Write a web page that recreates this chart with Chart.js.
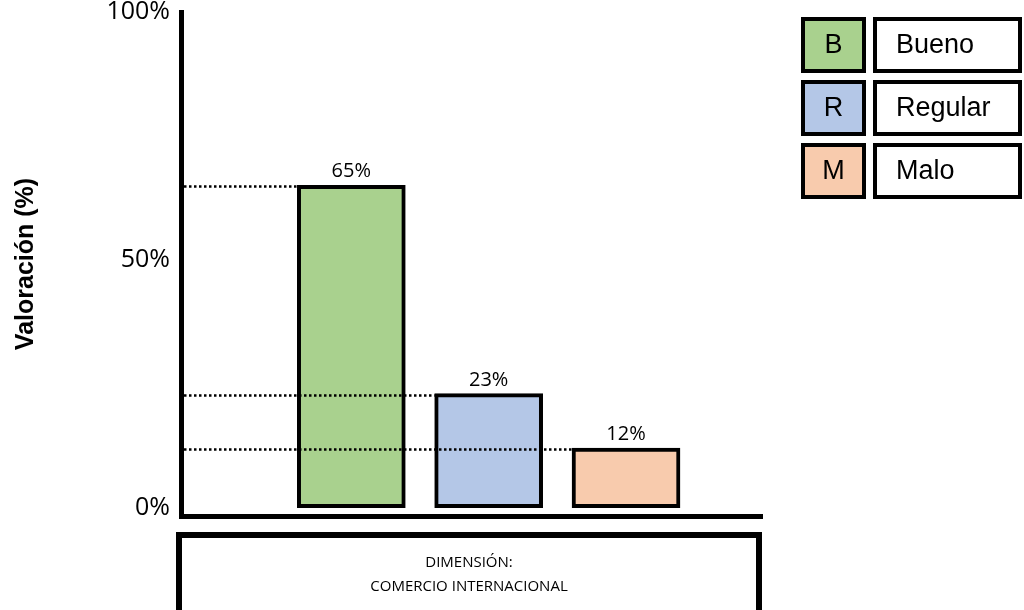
<!DOCTYPE html>
<html lang="es">
<head>
<meta charset="utf-8">
<title>Valoración (%) - Comercio internacional</title>
<script src="https://cdn.jsdelivr.net/npm/chart.js@4.4.1/dist/chart.umd.min.js"></script>
<style>
  html, body { margin: 0; padding: 0; background: #fff; }
  #wrap { width: 1024px; height: 610px; position: relative; }
</style>
</head>
<body>
<div id="wrap"><canvas id="valoracion"></canvas></div>
<script>
"use strict";

const categories = ['B', 'R', 'M'];
const categoryNames = ['Bueno', 'Regular', 'Malo'];
const values = [65, 23, 12];
const barColors = ['#a9d18e', '#b4c7e7', '#f8cbad'];
const yTicks = [0, 50, 100];
const yTitle = 'Valoración (%)';
const dimensionLabel = ['DIMENSIÓN:', 'COMERCIO INTERNACIONAL'];

const SANS = "'Open Sans', sans-serif";
const ARIAL = "'Liberation Sans', Arial, sans-serif";

// dotted guide from the y axis to the left edge of each bar, drawn over the bars
const guideLines = {
  id: 'guideLines',
  afterDatasetsDraw(chart) {
    const { ctx, chartArea } = chart;
    ctx.save();
    ctx.strokeStyle = '#000';
    ctx.lineWidth = 2.5;
    ctx.setLineDash([2.5, 2.5]);
    chart.getDatasetMeta(0).data.forEach(bar => {
      const y = Math.round(bar.y) + 1.5;
      ctx.beginPath();
      ctx.moveTo(chartArea.left + 3, y);
      ctx.lineTo(bar.x - bar.width / 2, y);
      ctx.stroke();
    });
    ctx.restore();
  }
};

// percentage over every bar
const valueLabels = {
  id: 'valueLabels',
  afterDatasetsDraw(chart) {
    const { ctx } = chart;
    ctx.save();
    ctx.fillStyle = '#000';
    ctx.font = `20px ${SANS}`;
    ctx.textAlign = 'center';
    ctx.textBaseline = 'alphabetic';
    chart.getDatasetMeta(0).data.forEach((bar, i) => {
      ctx.fillText(values[i] + '%', bar.x, bar.y - 8);
    });
    ctx.restore();
  }
};

// boxed dimension name under the x axis
const dimensionBox = {
  id: 'dimensionBox',
  afterDraw(chart) {
    const { ctx, chartArea } = chart;
    const left = chartArea.left - 2;
    const width = chartArea.right - chartArea.left - 1;
    ctx.save();
    ctx.strokeStyle = '#000';
    ctx.lineWidth = 6;
    ctx.strokeRect(left, 535, width, 100);
    ctx.fillStyle = '#000';
    ctx.font = `15px ${SANS}`;
    ctx.textAlign = 'center';
    ctx.textBaseline = 'middle';
    dimensionLabel.forEach((line, i) => {
      ctx.fillText(line, left + width / 2, 563 + i * 24);
    });
    ctx.restore();
  }
};

// letter key on the right: coloured box + name box
const keyTable = {
  id: 'keyTable',
  afterDraw(chart) {
    const { ctx } = chart;
    ctx.save();
    ctx.lineWidth = 4;
    ctx.strokeStyle = '#000';
    ctx.font = `27px ${ARIAL}`;
    ctx.textBaseline = 'middle';
    categories.forEach((letter, i) => {
      const top = 17 + i * 63;
      ctx.fillStyle = barColors[i];
      ctx.fillRect(801, top, 65, 56);
      ctx.strokeRect(803, top + 2, 61, 52);
      ctx.fillStyle = '#fff';
      ctx.fillRect(873, top, 149, 56);
      ctx.strokeRect(875, top + 2, 145, 52);
      ctx.fillStyle = '#000';
      ctx.textAlign = 'center';
      ctx.fillText(letter, 833.5, top + 29);
      ctx.textAlign = 'left';
      ctx.fillText(categoryNames[i], 896, top + 29);
    });
    ctx.restore();
  }
};

class ValoracionChart {

  #rendered;

  #options() {
    return {
      responsive: true,
      maintainAspectRatio: false,
      animation: false,
      layout: { padding: { top: 12, right: 262, bottom: 0, left: 0 } },
      plugins: {
        legend: { display: false },
        tooltip: { enabled: false },
      },
      scales: {
        x: {
          type: 'linear',
          offset: false,
          min: -0.24,
          max: 3.99,
          grid: { display: false, drawTicks: false },
          border: { display: true, color: '#000', width: 5 },
          ticks: { display: false },
          afterFit(scale) {
            scale.height = 94;
            scale.paddingLeft = 0;
            scale.paddingRight = 0;
          },
        },
        y: {
          min: -1.7,
          max: 100,
          afterBuildTicks(scale) {
            scale.ticks = yTicks.map(v => ({ value: v }));
          },
          grid: { display: false, drawTicks: false },
          border: { display: true, color: '#000', width: 5 },
          ticks: {
            padding: 11,
            color: '#000',
            font: { family: SANS, size: 25 },
            callback: v => v + '%',
          },
          title: {
            display: true,
            text: yTitle,
            color: '#000',
            font: { family: ARIAL, size: 25, weight: 'bold' },
            padding: { top: 11, bottom: 0 },
          },
          afterFit(scale) {
            scale.width = 181;
            scale.paddingTop = 0;
            scale.paddingBottom = 0;
          },
        },
      },
    };
  }

  #config() {
    return {
      type: 'bar',
      data: {
        datasets: [{
          data: categories.map((c, i) => ({ x: i + 1, y: values[i] })),
          backgroundColor: barColors,
          borderColor: '#000',
          borderWidth: 4,
          borderSkipped: false,
          barThickness: 108,
        }],
      },
      options: this.#options(),
      plugins: [guideLines, valueLabels, dimensionBox, keyTable],
    };
  }

  render(container) {
    if (this.#rendered) {
      this.#rendered.destroy();
    }
    this.#rendered = new Chart(document.getElementById(container), this.#config());
  }

}

new ValoracionChart().render('valoracion');
</script>
</body>
</html>
